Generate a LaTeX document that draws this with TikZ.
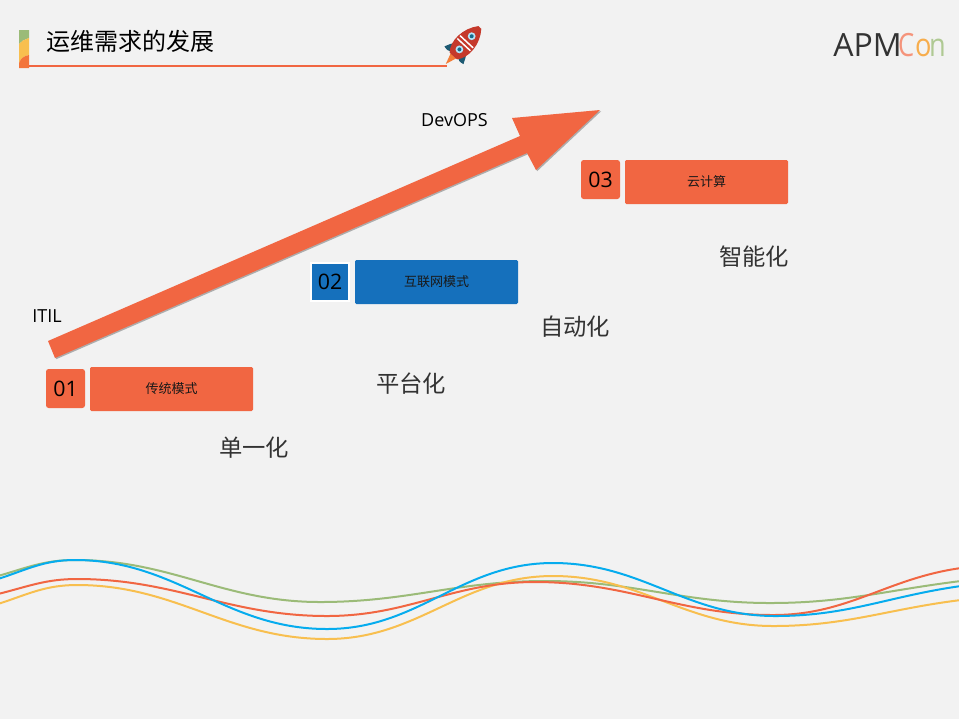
\documentclass[tikz,border=0pt]{standalone}
\usepackage{fontspec}
\usetikzlibrary{shadows}
\setmainfont{Open Sans}
\newfontfamily\cjk{Noto Sans CJK SC}
\definecolor{bgcol}{HTML}{F2F2F2}
\definecolor{orangecol}{HTML}{F16642}
\definecolor{bluecol}{HTML}{1570BC}
\definecolor{greencol}{HTML}{9BBB78}
\definecolor{yellowcol}{HTML}{F8BF4F}
\definecolor{skycol}{HTML}{06ACEE}
\definecolor{tealcol}{HTML}{1D5A73}
\definecolor{redcol}{HTML}{C5392B}
\tikzset{
	numbox/.style={fill=orangecol,rounded corners=2pt,minimum width=29.25pt,minimum height=29.25pt,inner sep=0pt,font=\fontsize{16}{16}\selectfont},
	modebox/.style={fill=orangecol,rounded corners=1pt,minimum width=122.25pt,minimum height=33pt,inner sep=0pt,font=\cjk\fontsize{9.75}{10}\selectfont,text=black!90},
	stagelabel/.style={font=\cjk\fontsize{17.5}{18}\selectfont,text=black!80},
	methodlabel/.style={font=\fontsize{13.5}{14}\selectfont},
	wave/.style={line width=1.5pt},
	crest/.style={out=0,in=180},
	logoletter/.style={font=\fontsize{24}{24}\selectfont,inner sep=0pt,anchor=base west}
}
\begin{document}
\begin{tikzpicture}[x=0.75pt,y=-0.75pt]
	\fill[bgcol] (0,0) rectangle (959,719);
	\useasboundingbox (0,0) rectangle (959,719);
	% title bar
	\fill[greencol] (19,30) -- (29,30) -- (29,38) .. controls (24,40) and (21,41) .. (19,44) -- cycle;
	\fill[yellowcol] (19,44) .. controls (21,41) and (24,40) .. (29,38) -- (29,55) .. controls (24,56) and (21,58) .. (19,63) -- cycle;
	\fill[orangecol!90!yellow] (19,63) .. controls (21,58) and (24,56) .. (29,55) -- (29,68) -- (19,68) -- cycle;
	\fill[orangecol] (29,65) rectangle (447,66.6);
	\node[font=\cjk\fontsize{18}{18}\selectfont] (title) at (130,41) {运维需求的发展};
	% rocket
	\begin{scope}[shift={(463.5,45)},rotate=47]
		\fill[orangecol!85!yellow] (-14,-4) -- (-26,0) -- (-14,4) -- cycle;
		\fill[tealcol] (-3,6) .. controls (-6,10) and (-10,11) .. (-14,13) .. controls (-15,9) and (-15,7) .. (-13,4) -- cycle;
		\fill[tealcol] (-3,-6) .. controls (-6,-10) and (-10,-11) .. (-14,-13) .. controls (-15,-9) and (-15,-7) .. (-13,-4) -- cycle;
		\fill[redcol] (-15,-5) .. controls (-6,-13) and (12,-12) .. (24,-2) -- (24,2) .. controls (12,12) and (-6,13) .. (-15,5) -- cycle;
		\draw[white,line width=1.1pt] (0.5,-9) -- (0.5,9);
		\draw[white,line width=1.1pt] (4.5,-9) -- (4.5,9);
		\fill[white!70!skycol] (-6,0) circle (3.9);
		\fill[tealcol!80!skycol] (-6,0) circle (2);
		\fill[white!70!skycol] (12,0) circle (3.9);
		\fill[tealcol!80!skycol] (12,0) circle (2);
	\end{scope}
	% logo
	\node[logoletter,text=black!80] (apm) at (833,56) {APM};
	\node[logoletter,text=orangecol!70,xscale=0.8] (logoc) at (898,56) {C};
	\node[logoletter,text=yellowcol!80!orangecol,xscale=0.85] (logoo) at (915,56) {o};
	\node[logoletter,text=greencol!80,xscale=0.85] (logon) at (929,56) {n};
	% trend arrow
	\fill[orangecol,drop shadow={shadow xshift=0.9pt,shadow yshift=-0.9pt,opacity=0.6}]
		(48,341) -- (520,136) -- (512,118) -- (600,110) -- (536,170) -- (527,153) -- (55,358) -- cycle;
	\node[methodlabel] (itil) at (47,316) {ITIL};
	\node[methodlabel] (devops) at (454.5,120.5) {DevOPS};
	% stages
	\node[numbox] (num1) at (65.5,388.5) {01};
	\node[modebox] (mode1) at (171.5,389) {\raisebox{1.5pt}{传统模式}};
	\node[numbox,fill=bluecol,rounded corners=0pt,draw=white,line width=1pt,minimum width=28.5pt,minimum height=28.5pt] (num2) at (330,282) {02};
	\node[modebox,fill=bluecol] (mode2) at (436.5,282) {\raisebox{-0.5pt}{互联网模式}};
	\node[numbox] (num3) at (600.5,179.5) {03};
	\node[modebox] (mode3) at (706.5,182) {\raisebox{-1.5pt}{云计算}};
	\node[stagelabel] (stage1) at (254,448) {单一化};
	\node[stagelabel] (stage2) at (411,384) {平台化};
	\node[stagelabel] (stage3) at (575,327) {自动化};
	\node[stagelabel] (stage4) at (754,257) {智能化};
	% waves
	\draw[greencol,wave] (-2,576) to[out=16,in=180] (75,560) to[crest] (320,602) to[crest] (545,581) to[crest] (770,603) to[out=0,in=187] (961,581);
	\draw[yellowcol,wave] (-2,604) to[out=18,in=180] (77,585) to[crest] (327,639) to[crest] (553,576) to[crest] (773,626) to[out=0,in=187] (961,600);
	\draw[orangecol,wave] (-2,594) to[out=14,in=180] (77,579) to[crest] (327,616) to[crest] (535,582) to[crest] (773,615) to[out=0,in=188] (961,568);
	\draw[skycol,wave] (-2,579) to[out=18,in=180] (75,560) to[crest] (327,629) to[crest] (553,563) to[crest] (775,616) to[out=0,in=188] (961,586);
\end{tikzpicture}
\end{document}
